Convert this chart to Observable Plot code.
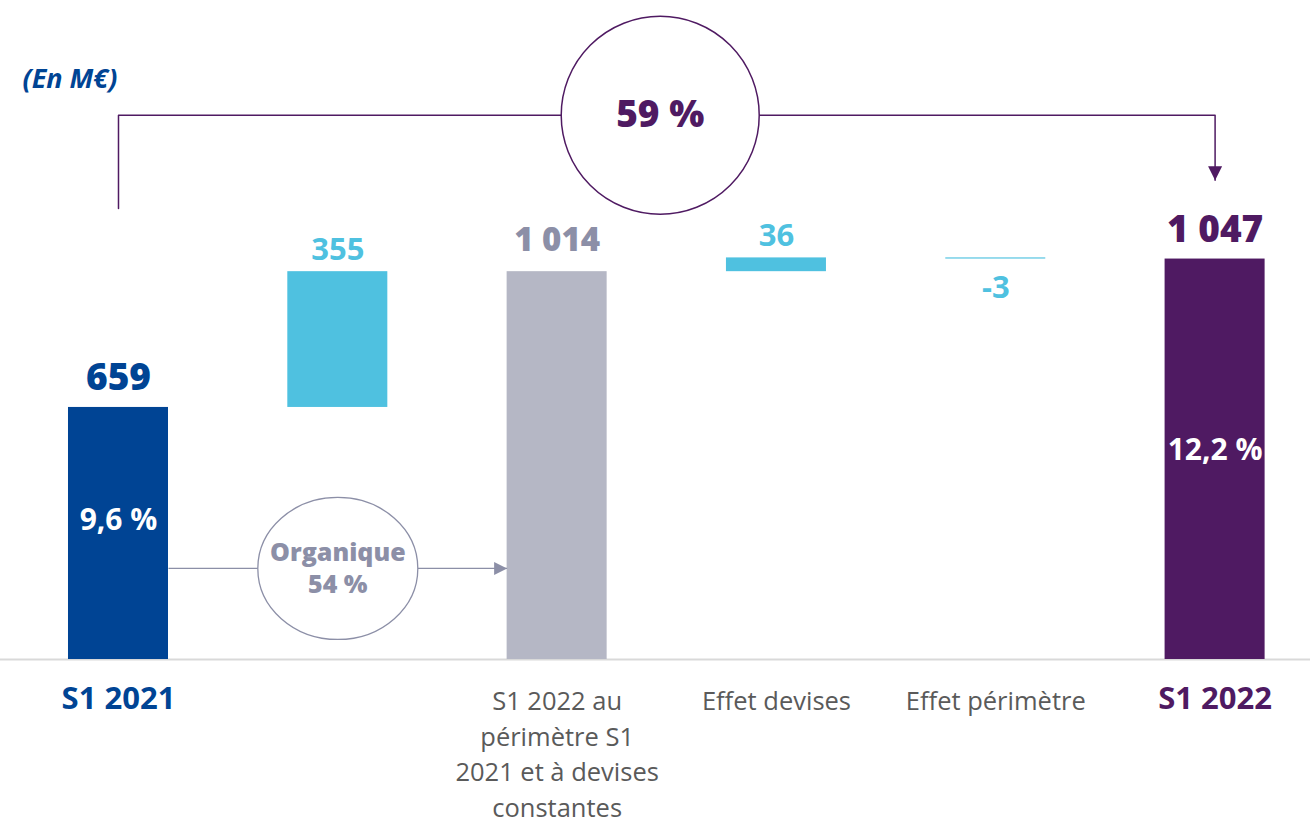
<!DOCTYPE html>
<html><head><meta charset="utf-8">
<script src="https://cdn.jsdelivr.net/npm/d3@7"></script>
<script src="https://cdn.jsdelivr.net/npm/@observablehq/plot@0.6"></script>
<style>body{margin:0;background:#fff}</style>
</head><body><div id="chart"></div>
<script>
// ---- data ----
const categories = ["S1 2021", "Croissance organique", "S1 2022 au périmètre S1 2021 et à devises constantes", "Effet devises", "Effet périmètre", "S1 2022"];
const tickLabels = ["S1 2021", "", "S1 2022 au\npérimètre S1\n2021 et à devises\nconstantes", "Effet devises", "Effet périmètre", "S1 2022"];
const values = [659, 355, 1014, 36, -3, 1047];
const kinds = ["total", "delta", "total", "delta", "delta", "total"];
const valueLabels = ["659", "355", "1 014", "36", "-3", "1 047"];
const marginLabels = ["9,6 %", "", "", "", "", "12,2 %"];
const totalGrowthLabel = "59 %";
const organicGrowthLines = ["Organique", "54 %"];
const unitLabel = "(En M€)";

// ---- styles ----
const BLUE = "#004494", LIGHT = "#4fc1e0", GREY = "#b5b7c5", PURPLE = "#4f1a62", GREYTXT = "#8c8fa7", AXISTXT = "#5a5a5a";
const barColors = [BLUE, LIGHT, GREY, LIGHT, LIGHT, PURPLE];
const FONT = "'Open Sans', sans-serif";
const hw = 0.228; // half bar width in category units

// ---- waterfall table ----
let running = 0;
const rows = categories.map((c, i) => {
  let y1, y2;
  if (kinds[i] === "total") { y1 = 0; y2 = values[i]; }
  else { y1 = running; y2 = running + values[i]; }
  running = y2;
  return {i, c, v: values[i], y1, y2, top: Math.max(y1, y2), bottom: Math.min(y1, y2)};
});

// annotation anchors (data units)
const bracketY = 1423, bracketStartY = 1179, arrowTipY = 1253;
const organicY = 238;
const circleX = 2.47;

const downTri = {draw(ctx) { ctx.moveTo(-7, -14); ctx.lineTo(7, -14); ctx.lineTo(0, 0); ctx.closePath(); }};
const rightTri = {draw(ctx) { ctx.moveTo(-13, -6.5); ctx.lineTo(-13, 6.5); ctx.lineTo(0, 0); ctx.closePath(); }};
const ellipse = {draw(ctx) {
  const rx = 80, ry = 71, k = 0.5523;
  ctx.moveTo(rx, 0);
  ctx.bezierCurveTo(rx, ry * k, rx * k, ry, 0, ry);
  ctx.bezierCurveTo(-rx * k, ry, -rx, ry * k, -rx, 0);
  ctx.bezierCurveTo(-rx, -ry * k, -rx * k, -ry, 0, -ry);
  ctx.bezierCurveTo(rx * k, -ry, rx, -ry * k, rx, 0);
  ctx.closePath();
}};

const byIdx = (arr) => arr.map(i => rows[i]);

const chart = Plot.plot({
  width: 1310, height: 824,
  marginTop: 0, marginBottom: 165, marginLeft: 0, marginRight: 0,
  x: {type: "linear", domain: [-0.538, 5.435], axis: null},
  y: {domain: [0, 1723], axis: null},
  color: {type: "identity"},
  style: {fontFamily: FONT, background: "white"},
  marks: [
    Plot.ruleY([0], {stroke: "#d9d9d9", strokeWidth: 2}),
    Plot.rectY(rows, {x1: d => d.i - hw, x2: d => d.i + hw, y1: "y1", y2: "y2", fill: d => barColors[d.i]}),
    // value labels
    Plot.text(byIdx([0, 5]), {x: "i", y: "top", text: d => valueLabels[d.i], dy: -29, fill: d => barColors[d.i],
      fontSize: 37, fontWeight: 800, fontFamily: FONT}),
    Plot.text(byIdx([1, 3]), {x: "i", y: "top", text: d => valueLabels[d.i], dy: -22, fill: LIGHT,
      fontSize: 31, fontWeight: 700, fontFamily: FONT}),
    Plot.text(byIdx([4]), {x: "i", y: "bottom", text: d => valueLabels[d.i], dy: 29, fill: LIGHT,
      fontSize: 31, fontWeight: 700, fontFamily: FONT}),
    Plot.text(byIdx([2]), {x: "i", y: "top", text: d => valueLabels[d.i], dy: -31, fill: GREYTXT,
      fontSize: 33, fontWeight: 800, fontFamily: FONT}),
    // margin labels inside bars
    Plot.text(byIdx([0]), {x: "i", frameAnchor: "bottom", lineAnchor: "middle", dy: -139, text: d => marginLabels[d.i], fill: "white",
      fontSize: 30, fontWeight: 700, fontFamily: FONT}),
    Plot.text(byIdx([5]), {x: "i", frameAnchor: "bottom", lineAnchor: "middle", dy: -209, text: d => marginLabels[d.i], fill: "white",
      fontSize: 30, fontWeight: 700, fontFamily: FONT}),
    // category labels
    Plot.text(byIdx([0, 5]), {x: "i", frameAnchor: "bottom", dy: 27, lineAnchor: "top", text: d => tickLabels[d.i],
      fill: d => barColors[d.i], fontSize: 31, fontWeight: 700, fontFamily: FONT}),
    Plot.text(byIdx([2, 3, 4]), {x: "i", frameAnchor: "bottom", dy: 25, lineAnchor: "top", text: d => tickLabels[d.i],
      fill: AXISTXT, fontSize: 25.5, fontWeight: 400, lineHeight: 1.4, fontFamily: FONT}),
    // total growth bracket
    Plot.line([{x: 0, y: bracketStartY}, {x: 0, y: bracketY}, {x: 5, y: bracketY}, {x: 5, y: arrowTipY}],
      {x: "x", y: "y", stroke: PURPLE, strokeWidth: 1.5, curve: "linear"}),
    Plot.dot([{x: 5, y: arrowTipY}], {x: "x", y: "y", symbol: downTri, fill: PURPLE, stroke: "none"}),
    Plot.dot([{x: circleX, y: bracketY}], {x: "x", y: "y", r: 99, fill: "white", stroke: PURPLE, strokeWidth: 1.5}),
    Plot.text([totalGrowthLabel], {x: circleX, y: bracketY, text: d => d, fill: PURPLE, fontSize: 37, fontWeight: 800, fontFamily: FONT}),
    // organic growth arrow
    Plot.link([{x1: hw, x2: 2 - hw}], {x1: "x1", x2: "x2", y1: organicY, y2: organicY, stroke: "#8c8fa7", strokeWidth: 1.3}),
    Plot.dot([{x: 2 - hw, y: organicY}], {x: "x", y: "y", symbol: rightTri, fill: "#8c8fa7", stroke: "none"}),
    Plot.dot([{x: 1, y: organicY}], {x: "x", y: "y", symbol: ellipse, fill: "white", stroke: "#8c8fa7", strokeWidth: 1.3}),
    Plot.text([organicGrowthLines[0]], {x: 1, y: organicY, dy: -15, text: d => d, fill: GREYTXT, fontSize: 25, fontWeight: 800, fontFamily: FONT}),
    Plot.text([organicGrowthLines[1]], {x: 1, y: organicY, dy: 17, text: d => d, fill: GREYTXT, fontSize: 25, fontWeight: 800, fontFamily: FONT}),
    // unit label
    Plot.text([unitLabel], {frameAnchor: "top-left", lineAnchor: "middle", dx: 22, dy: 79, textAnchor: "start", text: d => d, fill: BLUE,
      fontSize: 27, fontWeight: 700, fontStyle: "italic", fontFamily: FONT})
  ]
});
document.getElementById("chart").append(chart);
</script>
</body></html>
